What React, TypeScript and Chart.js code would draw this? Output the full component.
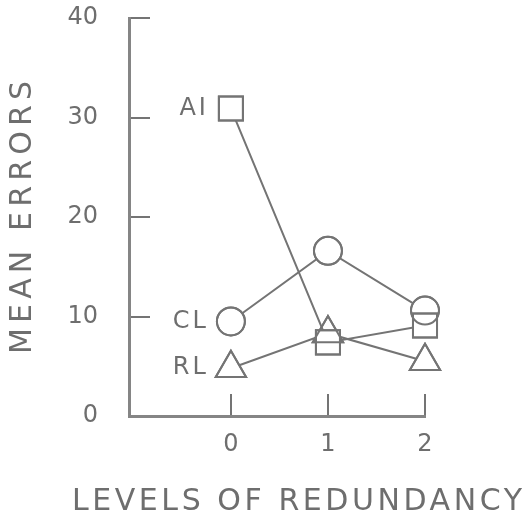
import React, { useEffect, useRef } from "react";
import { Chart, registerables } from "chart.js";
import { drawPoint } from "chart.js/helpers";

Chart.register(...registerables);

const levels = [0, 1, 2];
const seriesNames = ["AI", "CL", "RL"];
const aiValues = [30.9, 7.4, 9.1];
const clValues = [9.5, 16.6, 10.6];
const rlValues = [4.8, 8.3, 5.5];
const yTicks = [0, 10, 20, 30, 40];
const xTitle = "LEVELS OF REDUNDANCY";
const yTitle = "MEAN ERRORS";

const INK = "#747474";
const TEXT = "#6e6e6e";
const FONT = "'DejaVu Sans', 'Liberation Sans', sans-serif";

function drawSpaced(ctx: CanvasRenderingContext2D, text: string, x: number, y: number, width: number) {
  (ctx as any).letterSpacing = "0px";
  const w = ctx.measureText(text).width;
  const sp = Math.max(0, (width - w) / (text.length - 1));
  (ctx as any).letterSpacing = sp + "px";
  ctx.textAlign = "left";
  ctx.fillText(text, x, y);
  (ctx as any).letterSpacing = "0px";
}

const annotationPlugin = {
  id: "annot",
  afterDatasetsDraw(chart: any) {
    const ctx: CanvasRenderingContext2D = chart.ctx;
    ctx.save();
    ctx.strokeStyle = INK;
    ctx.fillStyle = "rgba(0,0,0,0)";
    ctx.lineWidth = 2;
    chart.data.datasets.forEach((ds: any, i: number) => {
      const meta = chart.getDatasetMeta(i);
      meta.data.forEach((el: any) => {
        drawPoint(ctx, { pointStyle: ds.pointStyle, radius: ds.pointRadius, rotation: 0, borderWidth: 2 } as any, el.x, el.y);
      });
    });
    ctx.fillStyle = TEXT;
    ctx.font = `400 24px ${FONT}`;
    ctx.textBaseline = "middle";
    ctx.textAlign = "right";
    const xs = chart.scales.x;
    const ys = chart.scales.y;
    chart.data.datasets.forEach((ds: any) => {
      const px = xs.getPixelForValue(levels[0]) - 25;
      const py = ys.getPixelForValue(ds.data[0].y);
      (ctx as any).letterSpacing = "3px";
      ctx.fillText(ds.label, px + 3, py);
      (ctx as any).letterSpacing = "0px";
    });
    ctx.restore();
  },
  afterDraw(chart: any) {
    const ctx: CanvasRenderingContext2D = chart.ctx;
    ctx.save();
    ctx.fillStyle = TEXT;
    ctx.font = `400 30px ${FONT}`;
    ctx.textBaseline = "middle";
    drawSpaced(ctx, xTitle, 72, 502, 450);
    ctx.translate(23, 218);
    ctx.rotate(-Math.PI / 2);
    drawSpaced(ctx, yTitle, -136, 0, 273);
    ctx.restore();
  },
};

export default function App() {
  const ref = useRef<HTMLCanvasElement>(null);
  useEffect(() => {
    if (!ref.current) return;
    const mk = (label: string, vals: number[], style: string, radius: number) => ({
      label,
      data: levels.map((x, i) => ({ x, y: vals[i] })),
      pointStyle: style,
      pointRadius: radius,
      pointBorderWidth: 2,
      pointBorderColor: INK,
      pointBackgroundColor: "#ffffff",
      borderColor: INK,
      borderWidth: 2,
      showLine: true,
      fill: false,
      tension: 0,
      clip: false,
    });
    const chart = new Chart(ref.current, {
      type: "scatter",
      data: {
        datasets: [
          mk(seriesNames[0], aiValues, "rect", 17),
          mk(seriesNames[1], clValues, "circle", 14),
          mk(seriesNames[2], rlValues, "triangle", 17.5),
        ] as any,
      },
      options: {
        animation: false,
        responsive: false,
        devicePixelRatio: 1,
        layout: { autoPadding: false, padding: { top: 18, right: 99, left: 0, bottom: 0 } },
        plugins: { legend: { display: false }, tooltip: { enabled: false } },
        scales: {
          x: {
            type: "linear",
            min: -1.05,
            max: 2,
            afterBuildTicks: (s: any) => {
              s.ticks = levels.map((v) => ({ value: v }));
            },
            afterFit: (s: any) => {
              s.height = 98;
              s.paddingLeft = 0;
              s.paddingRight = 0;
            },
            grid: { drawOnChartArea: false, drawTicks: true, tickLength: -22, color: INK, lineWidth: 2 },
            border: { display: true, color: "#858585", width: 3 },
            ticks: {
              color: TEXT,
              padding: 36,
              font: { family: FONT, size: 24, weight: "400" as any },
              callback: (v: any) => String(v),
            },
          },
          y: {
            type: "linear",
            min: 0,
            max: 40,
            afterBuildTicks: (s: any) => {
              s.ticks = yTicks.map((v) => ({ value: v }));
            },
            afterFit: (s: any) => {
              s.width = 129;
              s.paddingTop = 0;
              s.paddingBottom = 0;
            },
            grid: { drawOnChartArea: false, drawTicks: true, tickLength: -21, color: INK, lineWidth: 2 },
            border: { display: true, color: "#858585", width: 3 },
            ticks: {
              color: TEXT,
              padding: 52,
              font: { family: FONT, size: 24, weight: "400" as any },
              callback: (v: any) => String(v),
            },
          },
        },
      },
      plugins: [annotationPlugin],
    });
    return () => chart.destroy();
  }, []);
  return (
    <div style={{ position: "fixed", left: 0, top: 0, width: 524, height: 514, background: "#fff" }}>
      <canvas ref={ref} width={524} height={514} style={{ width: 524, height: 514 }} />
    </div>
  );
}
